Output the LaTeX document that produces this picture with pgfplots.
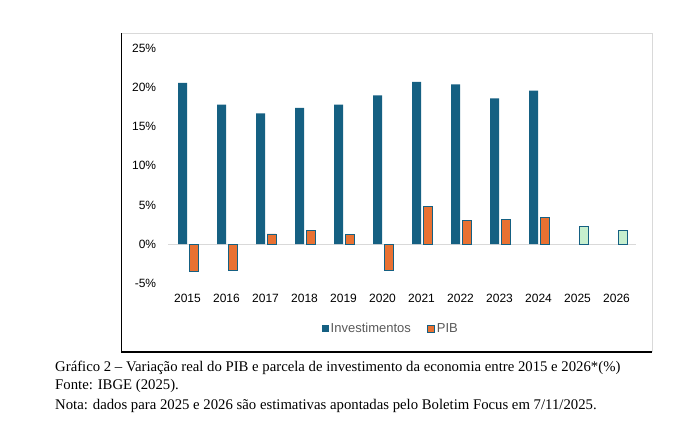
\documentclass[border=0pt]{standalone}
\usepackage{pgfplots}
\pgfplotsset{compat=1.18}
\usepackage{fontspec}
\setmainfont{Liberation Sans}
\newfontfamily\capfont{Liberation Serif}

\definecolor{invblue}{HTML}{156082}
\definecolor{piborange}{HTML}{E97132}
\definecolor{estgreen}{HTML}{C6EFCE}
\definecolor{framegray}{HTML}{D9D9D9}
\definecolor{leggray}{HTML}{595959}

\begin{document}
\begin{tikzpicture}
  \useasboundingbox (0pt,0pt) rectangle (700pt,-423pt);

  % moldura do grafico
  \draw[framegray, line width=1pt] (121.7pt,-33pt) -- (652pt,-33pt) -- (652pt,-352pt);
  \draw[black, line width=1.3pt] (121.7pt,-33pt) -- (121.7pt,-352pt) -- (652pt,-352pt);

  \begin{axis}[
      at={(168pt,-283.3pt)}, anchor=south west,
      scale only axis, width=468pt, height=235pt,
      xmin=-0.5, xmax=11.5, ymin=-5, ymax=25,
      axis line style={draw=none},
      major tick length=0pt,
      xtick={0,...,11},
      xticklabels={2015,2016,2017,2018,2019,2020,2021,2022,2023,2024,2025,2026},
      ytick={-5,0,5,10,15,20,25},
      yticklabels={-5\%,0\%,5\%,10\%,15\%,20\%,25\%},
      tick label style={font=\fontsize{12}{14}\selectfont, text=black},
      yticklabel style={anchor=east, xshift=-8.3pt},
      xticklabel style={anchor=north, yshift=-7.4pt},
      clip=false,
      legend style={at={(axis description cs:0.476,-0.194)}, anchor=center,
        draw=none, fill=none, legend columns=2,
        font=\fontsize{13}{15}\selectfont, text=leggray,
        /tikz/every even column/.append style={column sep=14pt}},
    ]
    \addplot[forget plot, framegray, line width=1pt] coordinates {(-0.5,0) (11.5,0)};

    \addplot[ybar, bar width=9pt, bar shift=-5pt, fill=invblue, draw=none,
      legend image code/.code={\fill[invblue] (0pt,-3.5pt) rectangle (7pt,3.5pt);}]
      coordinates {(0,20.6) (1,17.8) (2,16.7) (3,17.4) (4,17.8)
                   (5,19.0) (6,20.7) (7,20.4) (8,18.6) (9,19.6)};
    \addlegendentry{Investimentos}

    \addplot[ybar, bar width=9pt, bar shift=6pt, fill=piborange, draw=invblue, line width=0.9pt,
      legend image code/.code={\draw[fill=piborange, draw=invblue, line width=0.9pt] (0pt,-3.5pt) rectangle (7pt,3.5pt);}]
      coordinates {(0,-3.5) (1,-3.3) (2,1.3) (3,1.8) (4,1.2)
                   (5,-3.3) (6,4.8) (7,3.0) (8,3.2) (9,3.4)};
    \addlegendentry{PIB}

    \addplot[ybar, forget plot, bar width=9pt, bar shift=6pt, fill=estgreen, draw=invblue, line width=0.9pt]
      coordinates {(10,2.2) (11,1.8)};
  \end{axis}

  \begin{scope}[every node/.style={anchor=base west, inner sep=0pt,
      font=\capfont\fontsize{14.75}{17}\selectfont}]
    \node at (55pt,-371pt) {Gráfico 2 – Variação real do PIB e parcela de investimento da economia entre 2015 e 2026*(\%)};
    \node at (55pt,-389.5pt) {Fonte: IBGE (2025).};
    \node at (55pt,-409pt) {Nota: dados para 2025 e 2026 são estimativas apontadas pelo Boletim Focus em 7/11/2025.};
  \end{scope}
\end{tikzpicture}
\end{document}
